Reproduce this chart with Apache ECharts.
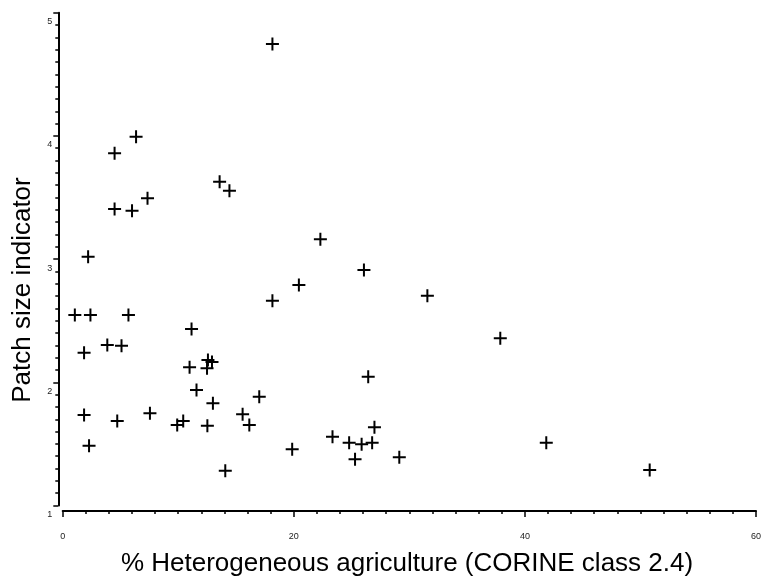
<!DOCTYPE html>
<html>
<head>
<meta charset="utf-8">
<script src="https://cdn.jsdelivr.net/npm/echarts@6/dist/echarts.min.js"></script>
<style>html,body{margin:0;padding:0;background:#fff}#c{width:764px;height:580px}</style>
</head>
<body>
<div id="c"></div>
<script>
const xTitle = '% Heterogeneous agriculture (CORINE class 2.4)';
const yTitle = 'Patch size indicator';
const xValues = [18.15, 6.35, 4.49, 13.58, 14.43, 7.34, 4.49, 6.00, 22.30, 2.20,
  26.07, 20.44, 31.56, 18.15, 1.05, 2.40, 5.69, 11.15, 37.87, 1.85,
  3.86, 5.09, 10.98, 12.57, 12.92, 12.49, 26.44, 11.58, 17.01, 13.00,
  1.85, 7.55, 15.57, 4.72, 10.43, 9.91, 12.52, 16.15, 26.98, 23.35,
  24.79, 25.87, 26.78, 2.28, 41.85, 19.86, 25.30, 29.13, 14.07, 50.80];
const yValues = [4.746, 3.993, 3.859, 3.628, 3.555, 3.494, 3.407, 3.393, 3.161, 3.019,
  2.911, 2.790, 2.703, 2.662, 2.546, 2.546, 2.546, 2.433, 2.357, 2.240,
  2.303, 2.297, 2.122, 2.181, 2.165, 2.114, 2.045, 1.938, 1.883, 1.830,
  1.735, 1.748, 1.740, 1.686, 1.686, 1.653, 1.648, 1.653, 1.635, 1.558,
  1.510, 1.497, 1.510, 1.485, 1.510, 1.456, 1.375, 1.391, 1.282, 1.288];
const xTicks = [0, 20, 40, 60];
const yTicks = [1, 2, 3, 4, 5];

const points = xValues.map((x, i) => [x, yValues[i]]);
const plus = 'path://M5.5,0 h2 v5.5 h5.5 v2 h-5.5 v5.5 h-2 v-5.5 h-5.5 v-2 h5.5 z';
const font = '"Liberation Sans", Arial, sans-serif';

const chart = echarts.init(document.getElementById('c'), null, {renderer: 'canvas'});
chart.setOption({
  animation: false,
  backgroundColor: '#fff',
  grid: {left: 62.7, right: 1.7, top: 12.7, bottom: 74.5, containLabel: false},
  xAxis: {
    type: 'value', min: xTicks[0], max: xTicks[xTicks.length - 1], interval: 20,
    offset: 5.5,
    axisLine: {show: true, onZero: false, lineStyle: {color: '#000', width: 2}},
    axisTick: {show: true, inside: false, length: 6, lineStyle: {color: '#000', width: 1.5}},
    minorTick: {show: true, splitNumber: 10, length: 3, lineStyle: {color: '#000', width: 1.5}},
    splitLine: {show: false}, minorSplitLine: {show: false},
    axisLabel: {show: true, margin: 21, fontSize: 9, color: '#222', fontFamily: font,
      alignMinLabel: 'center', alignMaxLabel: 'center', hideOverlap: false,
      formatter: v => xTicks.includes(v) ? String(v) : ''}
  },
  yAxis: {
    type: 'value', min: yTicks[0], max: yTicks[yTicks.length - 1], interval: 1,
    offset: 4.4,
    axisLine: {show: true, onZero: false, lineStyle: {color: '#000', width: 2}},
    axisTick: {show: true, inside: false, length: 5, lineStyle: {color: '#000', width: 1.5}},
    minorTick: {show: true, splitNumber: 10, length: 3, lineStyle: {color: '#000', width: 1.5}},
    splitLine: {show: false}, minorSplitLine: {show: false},
    axisLabel: {show: true, margin: 6, fontSize: 9, color: '#222', fontFamily: font,
      verticalAlign: 'top', lineHeight: 18,
      formatter: v => yTicks.includes(v) ? String(v) : ''}
  },
  graphic: [
    {type: 'text', x: 407, y: 564, style: {text: xTitle, font: '26px ' + font, fill: '#000',
      align: 'center', verticalAlign: 'middle'}},
    {type: 'text', x: 23, y: 290, rotation: Math.PI / 2, style: {text: yTitle, font: '26px ' + font,
      fill: '#000', align: 'center', verticalAlign: 'middle'}}
  ],
  series: [{
    type: 'scatter',
    data: points,
    symbol: plus,
    symbolSize: 13,
    itemStyle: {color: '#000', opacity: 1},
    emphasis: {disabled: true}
  }]
});
</script>
</body>
</html>
